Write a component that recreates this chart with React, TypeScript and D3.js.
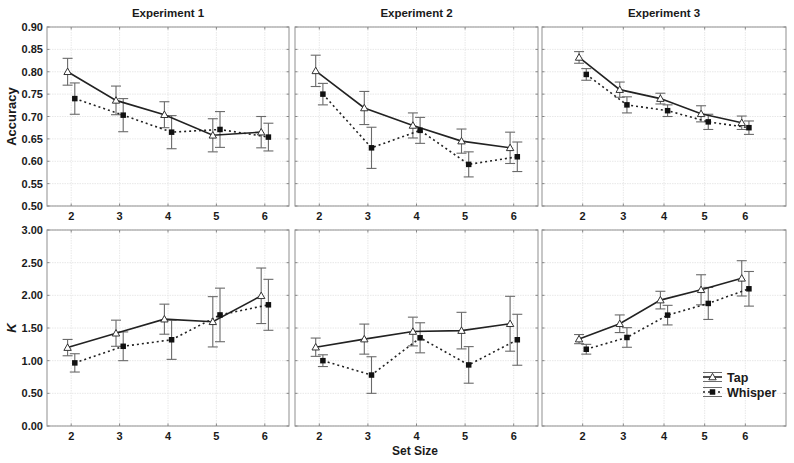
import React from "react";
import * as d3 from "d3";

const setSizes = [2, 3, 4, 5, 6];
const experiments = ["Experiment 1", "Experiment 2", "Experiment 3"];
const seriesNames = ["Tap", "Whisper"];

const exp1AccTap = [0.8, 0.736, 0.704, 0.658, 0.665];
const exp1AccTapErr = [0.03, 0.032, 0.029, 0.037, 0.035];
const exp1AccWhisper = [0.74, 0.703, 0.665, 0.671, 0.654];
const exp1AccWhisperErr = [0.035, 0.037, 0.037, 0.04, 0.031];
const exp2AccTap = [0.802, 0.719, 0.68, 0.645, 0.63];
const exp2AccTapErr = [0.035, 0.037, 0.028, 0.027, 0.035];
const exp2AccWhisper = [0.75, 0.63, 0.669, 0.593, 0.61];
const exp2AccWhisperErr = [0.024, 0.046, 0.029, 0.028, 0.033];
const exp3AccTap = [0.832, 0.76, 0.74, 0.706, 0.686];
const exp3AccTapErr = [0.013, 0.017, 0.012, 0.018, 0.015];
const exp3AccWhisper = [0.794, 0.726, 0.713, 0.688, 0.675];
const exp3AccWhisperErr = [0.013, 0.018, 0.013, 0.017, 0.015];

const exp1KTap = [1.2, 1.42, 1.635, 1.595, 1.993];
const exp1KTapErr = [0.125, 0.2, 0.23, 0.385, 0.425];
const exp1KWhisper = [0.966, 1.22, 1.32, 1.7, 1.855];
const exp1KWhisperErr = [0.14, 0.22, 0.3, 0.41, 0.39];
const exp2KTap = [1.206, 1.33, 1.446, 1.46, 1.565];
const exp2KTapErr = [0.14, 0.23, 0.22, 0.28, 0.42];
const exp2KWhisper = [1.0, 0.78, 1.35, 0.935, 1.32];
const exp2KWhisperErr = [0.09, 0.28, 0.23, 0.28, 0.39];
const exp3KTap = [1.33, 1.565, 1.927, 2.085, 2.26];
const exp3KTapErr = [0.07, 0.135, 0.135, 0.23, 0.27];
const exp3KWhisper = [1.175, 1.355, 1.697, 1.876, 2.1];
const exp3KWhisperErr = [0.075, 0.15, 0.15, 0.245, 0.265];

const accTicks = [0.5, 0.55, 0.6, 0.65, 0.7, 0.75, 0.8, 0.85, 0.9];
const kTicks = [0, 0.5, 1, 1.5, 2, 2.5, 3];

const accData = [
  [[exp1AccTap, exp1AccTapErr], [exp1AccWhisper, exp1AccWhisperErr]],
  [[exp2AccTap, exp2AccTapErr], [exp2AccWhisper, exp2AccWhisperErr]],
  [[exp3AccTap, exp3AccTapErr], [exp3AccWhisper, exp3AccWhisperErr]],
];
const kData = [
  [[exp1KTap, exp1KTapErr], [exp1KWhisper, exp1KWhisperErr]],
  [[exp2KTap, exp2KTapErr], [exp2KWhisper, exp2KWhisperErr]],
  [[exp3KTap, exp3KTapErr], [exp3KWhisper, exp3KWhisperErr]],
];

const FONT = "'Liberation Sans', Arial, Helvetica, sans-serif";

const cols = [
  { x0: 47, x1: 289, domain: [1.5, 6.5] },
  { x0: 295, x1: 538, domain: [1.5, 6.5] },
  { x0: 542, x1: 786, domain: [1, 7] },
];
const rows = [
  { y0: 27, y1: 206, domain: [0.5, 0.9], ticks: accTicks, fmt: d3.format(".2f"), label: "Accuracy", italic: false },
  { y0: 230, y1: 426, domain: [0, 3], ticks: kTicks, fmt: d3.format(".2f"), label: "K", italic: true },
];

const OFFSET = 3.6;

function Triangle({ x, y }: { x: number; y: number }) {
  const s = 3.7;
  return (
    <path
      d={`M${x},${y - s} L${x + s},${y + s * 0.75} L${x - s},${y + s * 0.75} Z`}
      fill="#fff"
      stroke="#333"
      strokeWidth={1}
    />
  );
}

function Square({ x, y }: { x: number; y: number }) {
  const s = 5.5;
  return <rect x={x - s / 2} y={y - s / 2} width={s} height={s} fill="#111" />;
}

function Panel({ ci, ri }: { ci: number; ri: number }) {
  const c = cols[ci];
  const r = rows[ri];
  const x = d3.scaleLinear().domain(c.domain).range([c.x0, c.x1]);
  const y = d3.scaleLinear().domain(r.domain).range([r.y1, r.y0]);
  const data = ri === 0 ? accData[ci] : kData[ci];
  const line = d3
    .line<[number, number]>()
    .x((d) => d[0])
    .y((d) => d[1]);

  const series = data.map(([vals, errs], si) => {
    const off = si === 0 ? -OFFSET : OFFSET;
    return setSizes.map((s, i) => ({
      px: x(s) + off,
      py: y(vals[i]),
      top: y(vals[i] + errs[i]),
      bot: y(vals[i] - errs[i]),
    }));
  });

  return (
    <g>
      {setSizes.map((s) => (
        <line key={"gx" + s} x1={x(s)} x2={x(s)} y1={r.y0} y2={r.y1} stroke="#e2e2e2" strokeWidth={0.8} strokeDasharray="1.5,1" />
      ))}
      {r.ticks.map((t) => (
        <line key={"gy" + t} x1={c.x0} x2={c.x1} y1={y(t)} y2={y(t)} stroke="#e2e2e2" strokeWidth={0.8} strokeDasharray="1.5,1" />
      ))}
      <rect x={c.x0} y={r.y0} width={c.x1 - c.x0} height={r.y1 - r.y0} fill="none" stroke="#9a9a9a" strokeWidth={1.1} />
      {setSizes.map((s) => (
        <g key={"tx" + s}>
          <line x1={x(s)} x2={x(s)} y1={r.y1} y2={r.y1 - 2.5} stroke="#888" />
          <line x1={x(s)} x2={x(s)} y1={r.y0} y2={r.y0 + 2.5} stroke="#888" />
          <text x={x(s)} y={r.y1 + 14} textAnchor="middle" fontFamily={FONT} fontWeight="bold" fontSize={11} fill="#1a1a1a">
            {s}
          </text>
        </g>
      ))}
      {r.ticks.map((t) => (
        <g key={"ty" + t}>
          <line x1={c.x0} x2={c.x0 + 2.5} y1={y(t)} y2={y(t)} stroke="#888" />
          <line x1={c.x1} x2={c.x1 - 2.5} y1={y(t)} y2={y(t)} stroke="#888" />
          {ci === 0 && (
            <text x={c.x0 - 4} y={y(t) + 4} textAnchor="end" fontFamily={FONT} fontWeight="bold" fontSize={11} fill="#1a1a1a">
              {r.fmt(t)}
            </text>
          )}
        </g>
      ))}
      {series.map((pts, si) =>
        pts.map((p, i) => (
          <g key={"e" + si + "-" + i} stroke="#6a6a6a" strokeWidth={1.1}>
            <line x1={p.px} x2={p.px} y1={p.top} y2={p.bot} />
            <line x1={p.px - 5} x2={p.px + 5} y1={p.top} y2={p.top} />
            <line x1={p.px - 5} x2={p.px + 5} y1={p.bot} y2={p.bot} />
          </g>
        ))
      )}
      <path d={line(series[0].map((p) => [p.px, p.py]) as [number, number][]) || ""} fill="none" stroke="#222" strokeWidth={1.6} />
      <path d={line(series[1].map((p) => [p.px, p.py]) as [number, number][]) || ""} fill="none" stroke="#222" strokeWidth={1.6} strokeDasharray="2,3" />
      {series[0].map((p, i) => (
        <Triangle key={"t" + i} x={p.px} y={p.py} />
      ))}
      {series[1].map((p, i) => (
        <Square key={"s" + i} x={p.px} y={p.py} />
      ))}
      {ri === 0 && (
        <text x={(c.x0 + c.x1) / 2} y={17} textAnchor="middle" fontFamily={FONT} fontWeight="bold" fontSize={11.5} fill="#1a1a1a">
          {experiments[ci]}
        </text>
      )}
      {ci === 0 && (
        <text
          transform={`translate(16,${(r.y0 + r.y1) / 2}) rotate(-90)`}
          textAnchor="middle"
          fontFamily={FONT}
          fontWeight="bold"
          fontStyle={r.italic ? "italic" : "normal"}
          fontSize={13}
          fill="#1a1a1a"
        >
          {r.label}
        </text>
      )}
    </g>
  );
}

function Legend() {
  const lx0 = 703;
  const lx1 = 722;
  const rowsY = [377, 392];
  const cx = (lx0 + lx1) / 2;
  return (
    <g>
      {seriesNames.map((name, si) => {
        const yy = rowsY[si];
        return (
          <g key={name}>
            <g stroke="#6a6a6a" strokeWidth={1}>
              <line x1={lx0} x2={lx1} y1={yy - 4.5} y2={yy - 4.5} />
              <line x1={lx0} x2={lx1} y1={yy + 4.5} y2={yy + 4.5} />
            </g>
            <line x1={lx0} x2={lx1} y1={yy} y2={yy} stroke="#222" strokeWidth={1.6} strokeDasharray={si === 0 ? undefined : "2,3"} />
            {si === 0 ? <Triangle x={cx} y={yy} /> : <Square x={cx} y={yy} />}
            <text x={727} y={yy + 4.5} fontFamily={FONT} fontWeight="bold" fontSize={12.5} fill="#1a1a1a">
              {name}
            </text>
          </g>
        );
      })}
    </g>
  );
}

export default function App() {
  return (
    <div style={{ position: "fixed", left: 0, top: 0 }}>
      <svg width={794} height={463} style={{ display: "block", background: "#fff" }}>
        <rect width={794} height={463} fill="#fff" />
        {[0, 1].map((ri) => [0, 1, 2].map((ci) => <Panel key={ri + "-" + ci} ci={ci} ri={ri} />))}
        <Legend />
        <text x={415} y={455} textAnchor="middle" fontFamily={FONT} fontWeight="bold" fontSize={12} fill="#1a1a1a">
          Set Size
        </text>
      </svg>
    </div>
  );
}
